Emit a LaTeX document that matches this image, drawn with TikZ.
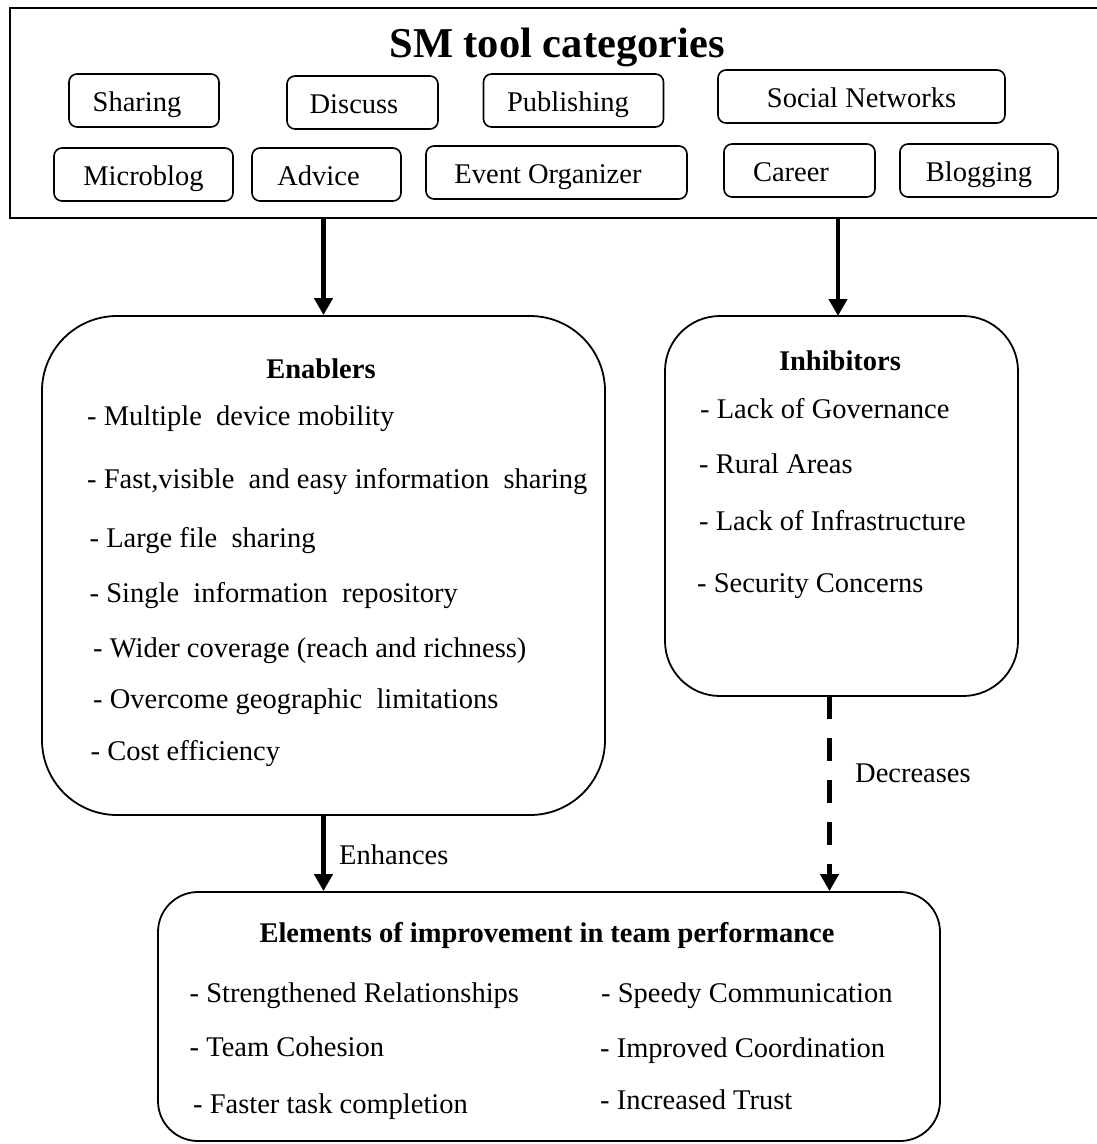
\documentclass[tikz,border=0pt]{standalone}
\usepackage{fontspec}
\setmainfont{Liberation Serif}
\usetikzlibrary{arrows.meta}
\newcommand{\bodyfont}{\fontsize{28.5}{34}\selectfont}
\begin{document}
\begin{tikzpicture}[x=1pt,y=-1pt,
  catbox/.style={draw, line width=1.6pt, rounded corners=8pt, inner sep=0pt,
    minimum height=53pt, text height=22pt, text depth=0pt, font=\bodyfont},
  panel/.style={draw, line width=1.8pt, inner sep=0pt},
  heading/.style={anchor=base, inner sep=0pt, font=\bodyfont\bfseries},
  entry/.style={anchor=base west, inner sep=0pt, font=\bodyfont},
  flow/.style={line width=4.5pt, -{Triangle[width=18pt,length=17pt]}},
  weakflow/.style={flow, dash pattern=on 23pt off 19pt}
]
\useasboundingbox (0,0) rectangle (1097,1144);

% --- categories of social media tools ---
\node[draw, line width=2pt, inner sep=0pt, minimum width=1090.5pt, minimum height=210pt]
  (cats) at (554.75,113) {};
\node[anchor=base, inner sep=0pt, font=\fontsize{42.5}{50}\selectfont\bfseries]
  (catstitle) at (557,57) {SM tool categories};

\node[catbox, minimum width=150pt] (sharing)    at (144,100.5)   {\hspace*{-14pt}Sharing};
\node[catbox, minimum width=151pt] (discuss)    at (362.5,102.5) {\hspace*{-17pt}Discuss};
\node[catbox, minimum width=180pt] (publishing) at (573.5,100.5) {\hspace*{-11pt}Publishing};
\node[catbox, minimum width=287pt] (social)     at (861.5,96.5)  {Social Networks};
\node[catbox, minimum width=179pt] (microblog)  at (143.5,174.5) {Microblog};
\node[catbox, minimum width=149pt] (advice)     at (326.5,174.5) {\hspace*{-16pt}Advice};
\node[catbox, minimum width=261pt] (event)      at (556.5,172.5) {\hspace*{-17pt}Event Organizer};
\node[catbox, minimum width=151pt] (career)     at (799.5,170.5) {\hspace*{-17pt}Career};
\node[catbox, minimum width=158pt] (blogging)   at (979,170.5)   {Blogging};

% --- enablers ---
\node[panel, rounded corners=75pt, minimum width=563pt, minimum height=499pt]
  (enab) at (323.5,565.5) {};
\node[heading] (enabtitle) at (321,378) {Enablers};
\node[entry] (e1) at (87,425)   {- Multiple~ device mobility};
\node[entry] (e2) at (87,488)   {- Fast,visible~ and easy information~ sharing};
\node[entry] (e3) at (89.5,547) {- Large file~ sharing};
\node[entry] (e4) at (89.5,602) {- Single~ information~ repository};
\node[entry] (e5) at (93,657)   {- Wider coverage (reach and richness)};
\node[entry] (e6) at (93,708)   {- Overcome geographic~ limitations};
\node[entry] (e7) at (90.5,760) {- Cost efficiency};

% --- inhibitors ---
\node[panel, rounded corners=55pt, minimum width=353pt, minimum height=380pt]
  (inhib) at (841.5,506) {};
\node[heading] (inhibtitle) at (840,370) {Inhibitors};
\node[entry] (i1) at (700,418) {- Lack of Governance};
\node[entry] (i2) at (699,473) {- Rural Areas};
\node[entry] (i3) at (699,530) {- Lack of Infrastructure};
\node[entry] (i4) at (697,592) {- Security Concerns};

% --- team performance ---
\node[panel, rounded corners=40pt, minimum width=782pt, minimum height=249pt]
  (perf) at (549,1016.5) {};
\node[heading] (perftitle) at (547,942) {Elements of improvement in team performance};
\node[entry] (p1) at (189.5,1002) {- Strengthened Relationships};
\node[entry] (p2) at (189.5,1056) {- Team Cohesion};
\node[entry] (p3) at (193,1113)   {- Faster task completion};
\node[entry] (p4) at (601,1002)   {- Speedy Communication};
\node[entry] (p5) at (600,1057)   {- Improved Coordination};
\node[entry] (p6) at (600,1109)   {- Increased Trust};

% --- connectors ---
\coordinate (inhibin)  at (838,316);
\coordinate (inhibout) at (829.5,696);
\draw[flow] (enab.north |- cats.south) -- (enab.north);
\draw[flow] (inhibin |- cats.south) -- (inhibin);
\draw[flow] (enab.south) -- (enab.south |- perf.north);
\draw[weakflow] (inhibout) -- (inhibout |- perf.north);

\node[entry] (enh) at (339,864) {Enhances};
\node[entry] (dec) at (855,782) {Decreases};
\end{tikzpicture}
\end{document}
